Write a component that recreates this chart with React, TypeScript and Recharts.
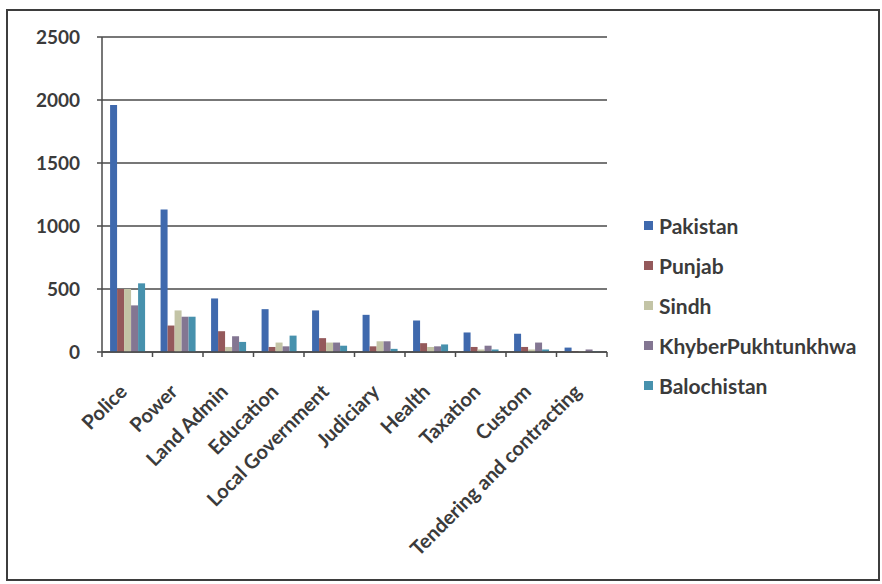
import React from 'react';
import { BarChart, Bar, XAxis, YAxis, CartesianGrid, Legend } from 'recharts';

const departments = [
  'Police',
  'Power',
  'Land Admin',
  'Education',
  'Local Government',
  'Judiciary',
  'Health',
  'Taxation',
  'Custom',
  'Tendering and contracting',
];

const pakistan = [1960, 1130, 425, 340, 330, 295, 250, 155, 145, 35];
const punjab = [500, 210, 165, 40, 110, 45, 70, 40, 40, 5];
const sindh = [500, 330, 40, 75, 75, 85, 40, 20, 20, 5];
const khyber = [370, 280, 125, 45, 75, 85, 45, 50, 75, 20];
const balochistan = [545, 280, 80, 130, 50, 25, 60, 20, 20, 5];

const yTicks = [0, 500, 1000, 1500, 2000, 2500];

const series = [
  { key: 'Pakistan', color: '#3f69ad' },
  { key: 'Punjab', color: '#94595b' },
  { key: 'Sindh', color: '#c3c4a6' },
  { key: 'KhyberPukhtunkhwa', color: '#837692' },
  { key: 'Balochistan', color: '#4791ad' },
];

const data = departments.map((name, i) => ({
  name,
  Pakistan: pakistan[i],
  Punjab: punjab[i],
  Sindh: sindh[i],
  KhyberPukhtunkhwa: khyber[i],
  Balochistan: balochistan[i],
}));

const FONT = 'Lato, "Noto Sans", sans-serif';
const TEXT = '#3b3b3b';
const AXIS = '#4a4a4a';

// plot box: x 102..607, y 37..352
const PLOT_LEFT = 102;
const PLOT_RIGHT = 607;
const HALF_BAND = (PLOT_RIGHT - PLOT_LEFT) / departments.length / 2;

const CategoryTick = (props: any) => {
  const { x, y, payload, index } = props;
  const last = index === departments.length - 1;
  const ax = x + 1;
  const ay = y + 33;
  return (
    <g>
      <line x1={x - HALF_BAND} y1={y - 8} x2={x - HALF_BAND} y2={y - 3} stroke={AXIS} strokeWidth={1.5} />
      {last && (
        <line x1={x + HALF_BAND} y1={y - 8} x2={x + HALF_BAND} y2={y - 3} stroke={AXIS} strokeWidth={1.5} />
      )}
      <text
        x={ax}
        y={ay}
        transform={`rotate(-45, ${ax}, ${ay})`}
        textAnchor="end"
        fontFamily={FONT}
        fontWeight={700}
        fontSize={20}
        fill={TEXT}
      >
        {payload.value}
      </text>
    </g>
  );
};

// legend drawn in series order
const LegendList = () => (
  <div style={{ fontFamily: FONT, fontWeight: 700, fontSize: 21, color: TEXT }}>
    {series.map((s) => (
      <div key={s.key} style={{ display: 'flex', alignItems: 'center', height: 40 }}>
        <span style={{ display: 'inline-block', width: 9, height: 9, background: s.color, marginRight: 6 }} />
        <span>{s.key}</span>
      </div>
    ))}
  </div>
);

export default function App() {
  return (
    <div style={{ position: 'absolute', left: 0, top: 0, width: 882, height: 584, background: '#fff' }}>
      <div
        style={{
          position: 'absolute',
          left: 6,
          top: 9,
          width: 870,
          height: 568,
          border: '2px solid #3d3d3d',
          pointerEvents: 'none',
        }}
      />
      <BarChart
        width={882}
        height={584}
        data={data}
        margin={{ top: 37, right: 882 - PLOT_RIGHT, bottom: 32, left: 0 }}
        barCategoryGap="16%"
        barGap={0}
      >
        <CartesianGrid horizontal vertical={false} stroke={AXIS} strokeWidth={1.5} />
        <XAxis
          dataKey="name"
          height={200}
          interval={0}
          tick={<CategoryTick />}
          tickLine={false}
          axisLine={{ stroke: AXIS, strokeWidth: 1.5 }}
        />
        <YAxis
          width={PLOT_LEFT}
          domain={[0, 2500]}
          ticks={yTicks}
          tickSize={5}
          tickMargin={17}
          tickLine={{ stroke: AXIS, strokeWidth: 1.5 }}
          axisLine={{ stroke: AXIS, strokeWidth: 1.5 }}
          tick={{ fontFamily: FONT, fontWeight: 700, fontSize: 19, fill: TEXT }}
        />
        <Legend
          layout="vertical"
          align="center"
          verticalAlign="middle"
          content={<LegendList />}
          wrapperStyle={{ left: 644, top: 205, width: 236 }}
        />
        {series.map((s) => (
          <Bar key={s.key} dataKey={s.key} fill={s.color} isAnimationActive={false} />
        ))}
      </BarChart>
    </div>
  );
}
